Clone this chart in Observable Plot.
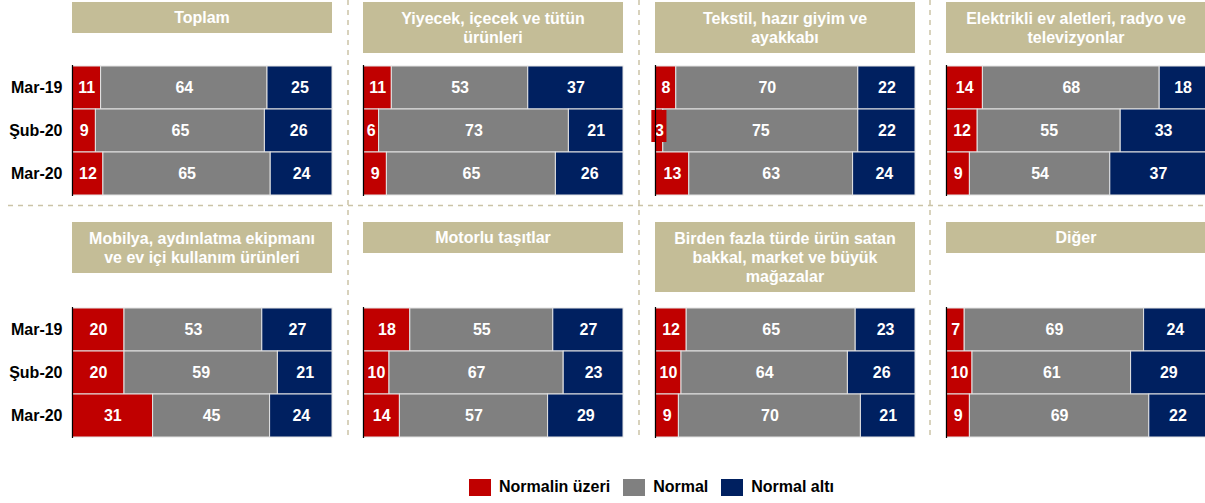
<!DOCTYPE html>
<html>
<head>
<meta charset="utf-8">
<script src="https://cdn.jsdelivr.net/npm/d3@7"></script>
<script src="https://cdn.jsdelivr.net/npm/@observablehq/plot@0.6"></script>
<style>
  html, body { margin: 0; padding: 0; background: white; }
  #root { position: relative; width: 1205px; height: 503px; overflow: hidden; font-family: "Liberation Sans", Arial, sans-serif; }
  .title { position: absolute; background: #c4bd97; color: white; font-weight: bold; font-size: 16px; line-height: 19px; text-align: center; white-space: pre-line; display: flex; align-items: center; justify-content: center; box-sizing: border-box; }
  .panel { position: absolute; }
  .legend { position: absolute; left: 469px; top: 478px; display: flex; align-items: center; font-weight: bold; font-size: 16px; color: #000; }
  .legend .sw { width: 22px; height: 17px; margin-right: 8px; }
  .legend .lab { margin-right: 13px; }
</style>
</head>
<body>
<div id="root"></div>
<script>
const periods = ["Mar-19", "Şub-20", "Mar-20"];
const series = ["Normalin üzeri", "Normal", "Normal altı"];
const colors = ["#c00000", "#808080", "#002060"];

const titles = [
  "Toplam",
  "Yiyecek, içecek ve tütün\nürünleri",
  "Tekstil, hazır giyim ve\nayakkabı",
  "Elektrikli ev aletleri, radyo ve\ntelevizyonlar",
  "Mobilya, aydınlatma ekipmanı\nve ev içi kullanım ürünleri",
  "Motorlu taşıtlar",
  "Birden fazla türde ürün satan\nbakkal, market ve büyük\nmağazalar",
  "Diğer"
];

// values per panel: rows = periods, columns = series
const toplam      = [[11, 64, 25], [9, 65, 26], [12, 65, 24]];
const yiyecek     = [[11, 53, 37], [6, 73, 21], [9, 65, 26]];
const tekstil     = [[8, 70, 22], [3, 75, 22], [13, 63, 24]];
const elektrikli  = [[14, 68, 18], [12, 55, 33], [9, 54, 37]];
const mobilya     = [[20, 53, 27], [20, 59, 21], [31, 45, 24]];
const motorlu     = [[18, 55, 27], [10, 67, 23], [14, 57, 29]];
const birden      = [[12, 65, 23], [10, 64, 26], [9, 70, 21]];
const diger       = [[7, 69, 24], [10, 61, 29], [9, 69, 22]];

const panelValues = [toplam, yiyecek, tekstil, elektrikli, mobilya, motorlu, birden, diger];

const root = document.getElementById("root");

// layout
const barLefts = [72, 363, 655, 946];
const barWidth = 260;
const titleTops = [2, 222];
const titleHeights = [
  [31, 51, 51, 51],
  [51, 31, 70, 31]
];
const barTops = [65, 307];
const barHeight = 131;

// dashed separators
const svgNS = "http://www.w3.org/2000/svg";
const sep = document.createElementNS(svgNS, "svg");
sep.setAttribute("width", 1205);
sep.setAttribute("height", 503);
sep.style.position = "absolute";
sep.style.left = "0px";
sep.style.top = "0px";
function line(x1, y1, x2, y2) {
  const l = document.createElementNS(svgNS, "line");
  l.setAttribute("x1", x1); l.setAttribute("y1", y1);
  l.setAttribute("x2", x2); l.setAttribute("y2", y2);
  l.setAttribute("stroke", "#cbc4a6");
  l.setAttribute("stroke-width", 1.5);
  l.setAttribute("stroke-dasharray", "5,5");
  sep.appendChild(l);
}
[348, 639, 930].forEach(x => line(x, 0, x, 440));
line(8, 205.5, 1205, 205.5);
root.appendChild(sep);

panelValues.forEach((vals, i) => {
  const row = Math.floor(i / 4), col = i % 4;
  // title box
  const t = document.createElement("div");
  t.className = "title";
  t.textContent = titles[i];
  t.style.left = barLefts[col] + "px";
  t.style.top = titleTops[row] + "px";
  t.style.width = barWidth + "px";
  t.style.height = titleHeights[row][col] + "px";
  root.appendChild(t);

  const data = [];
  vals.forEach((r, pi) => r.forEach((v, si) => data.push({period: periods[pi], series: series[si], value: v})));

  // small-value label backgrounds (label wider than its bar)
  const small = [];
  vals.forEach((r, pi) => {
    const total = d3.sum(r);
    let acc = 0;
    r.forEach((v, si) => {
      if (v < 5) {
        const mid = (acc + v / 2) / total;
        small.push({period: periods[pi], x1: mid - 0.029, x2: mid + 0.029, series: series[si]});
      }
      acc += v;
    });
  });

  const first = col === 0;
  const ml = first ? 72 : 1;
  const chart = Plot.plot({
    width: barWidth + ml,
    height: barHeight,
    marginLeft: ml,
    marginRight: 0,
    marginTop: 0,
    marginBottom: 0,
    style: {fontFamily: "Liberation Sans, Arial, sans-serif", background: "transparent", overflow: "visible"},
    x: {axis: null, domain: [0, 1]},
    y: {domain: periods, padding: 0, axis: null},
    color: {domain: series, range: colors},
    marks: [
      Plot.barX(data, Plot.stackX({offset: "normalize", order: series, x: "value", y: "period", fill: "series", stroke: "#e4e4e4", strokeWidth: 1})),
      Plot.rect(small, {x1: "x1", x2: "x2", y: "period", fill: "series", insetTop: 1, insetBottom: 10}),
      Plot.text(data, Plot.stackX({offset: "normalize", order: series, x: "value", y: "period", z: "series", text: "value", fill: "white", fontWeight: "bold", fontSize: 16})),
      Plot.ruleX([0], {stroke: "black", strokeWidth: 1.2}),
      ...(first ? [Plot.axisY({tickSize: 0, tickPadding: 10, fontSize: 16, fontWeight: "bold", fill: "black", label: null})] : [])
    ]
  });
  chart.classList.add("panel");
  chart.style.left = (barLefts[col] - ml) + "px";
  chart.style.top = barTops[row] + "px";
  root.appendChild(chart);
});

// legend
const leg = document.createElement("div");
leg.className = "legend";
series.forEach((s, i) => {
  const sw = document.createElement("div");
  sw.className = "sw";
  sw.style.background = colors[i];
  const lab = document.createElement("span");
  lab.className = "lab";
  lab.textContent = s;
  leg.appendChild(sw);
  leg.appendChild(lab);
});
root.appendChild(leg);
</script>
</body>
</html>
